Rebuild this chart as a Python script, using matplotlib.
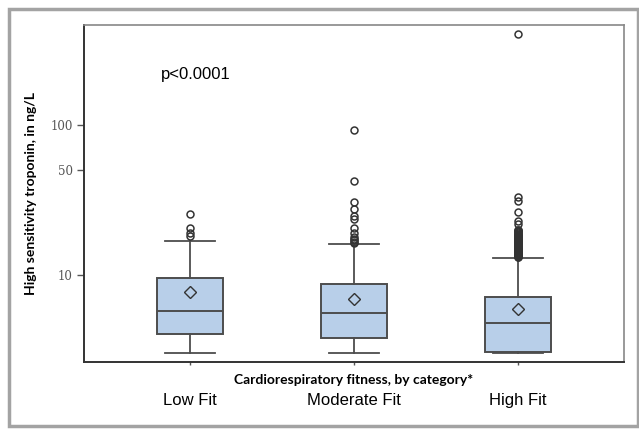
import numpy as np
import matplotlib.pyplot as plt
from matplotlib.patches import Rectangle

categories = ["Low Fit", "Moderate Fit", "High Fit"]
q1 = [4.04, 3.78, 3.07]
median = [5.78, 5.61, 4.79]
q3 = [9.55, 8.71, 7.1]
mean = [7.7, 6.92, 5.9]
whisker_lo = [3.0, 3.0, 3.0]
whisker_hi = [16.8, 16.0, 13.0]
outliers_low = [18.2, 19.05, 20.6, 25.5]
outliers_mod = [16.4, 16.7, 17.1, 17.5, 18.0, 19.0, 20.5, 23.8, 24.7, 27.4, 30.5, 42.5, 92.6]
outliers_high = [13.1, 13.2, 13.3, 13.4, 13.5, 13.6, 13.7, 13.8, 13.9, 14.0,
                 14.1, 14.2, 14.35, 14.5, 14.65, 14.8, 14.9, 15.0, 15.15, 15.3,
                 15.45, 15.6, 15.8, 16.0, 16.15, 16.3, 16.5, 16.7, 16.85, 17.0,
                 17.2, 17.4, 17.6, 17.8, 18.0, 18.2, 18.4, 18.6, 18.8, 19.0,
                 19.3, 19.5, 19.8, 20.0, 21.9, 23.0, 26.4, 31.2, 33.3, 404]
outliers = [outliers_low, outliers_mod, outliers_high]

stats = []
for i in range(3):
    stats.append({
        "label": categories[i],
        "q1": q1[i], "med": median[i], "q3": q3[i], "mean": mean[i],
        "whislo": whisker_lo[i], "whishi": whisker_hi[i],
        "fliers": outliers[i],
    })

fig = plt.figure(figsize=(6.39, 4.32), dpi=100)
ax = fig.add_axes([84 / 639, 1 - 362 / 432, 540 / 639, 337 / 432])

edge = "#4d4d4d"
ax.bxp(
    stats,
    positions=[1, 2, 3],
    widths=0.4,
    patch_artist=True,
    showmeans=True,
    boxprops=dict(facecolor="#b8cfe9", edgecolor=edge, linewidth=1.4),
    medianprops=dict(color=edge, linewidth=1.4),
    whiskerprops=dict(color=edge, linewidth=1.3),
    capprops=dict(color=edge, linewidth=1.3),
    flierprops=dict(marker="o", markersize=5, markerfacecolor="none",
                    markeredgecolor="#333333", markeredgewidth=1.1),
    meanprops=dict(marker="D", markersize=6, markerfacecolor="none",
                   markeredgecolor="#333333", markeredgewidth=1.0),
    capwidths=0.3,
)

ax.set_yscale("log")
ax.set_ylim(2.63, 464)
ax.set_xlim(0.354, 3.646)
ax.set_yticks([10, 50, 100])
ax.set_yticklabels(["10", "50", "100"], family="DejaVu Serif", fontsize=8.5, color="#555555")
ax.yaxis.set_minor_locator(plt.NullLocator())
ax.set_xticks([1, 2, 3])
ax.set_xticklabels([])
ax.tick_params(axis="y", length=5, width=1, color="#555555", pad=3)
ax.tick_params(axis="x", length=2, width=1, color="#555555")

for side in ["left", "bottom"]:
    ax.spines[side].set_color("#333333")
    ax.spines[side].set_linewidth(1.4)
for side in ["top", "right"]:
    ax.spines[side].set_color("#888888")
    ax.spines[side].set_linewidth(1.2)

ax.set_ylabel("High sensitivity troponin, in ng/L", family="Lato", fontweight="bold",
              fontsize=10, labelpad=10)
ax.set_xlabel("Cardiorespiratory fitness, by category*", family="Lato", fontweight="bold",
              fontsize=10, labelpad=3)

for i, name in enumerate(categories):
    ax.text(i + 1, -0.115, name, transform=ax.get_xaxis_transform(), ha="center",
            va="center", family="Liberation Sans", fontsize=12)

ax.text(0.143, 0.852, "p<0.0001", transform=ax.transAxes, ha="left", va="center",
        family="Liberation Sans", fontsize=12)

fig.patches.append(Rectangle((8.5 / 639, 1 - 425.5 / 432), 629 / 639, 417 / 432,
                             transform=fig.transFigure, fill=False,
                             edgecolor="#a3a3a3", linewidth=2.5))

fig.savefig("out.png", dpi=100)
